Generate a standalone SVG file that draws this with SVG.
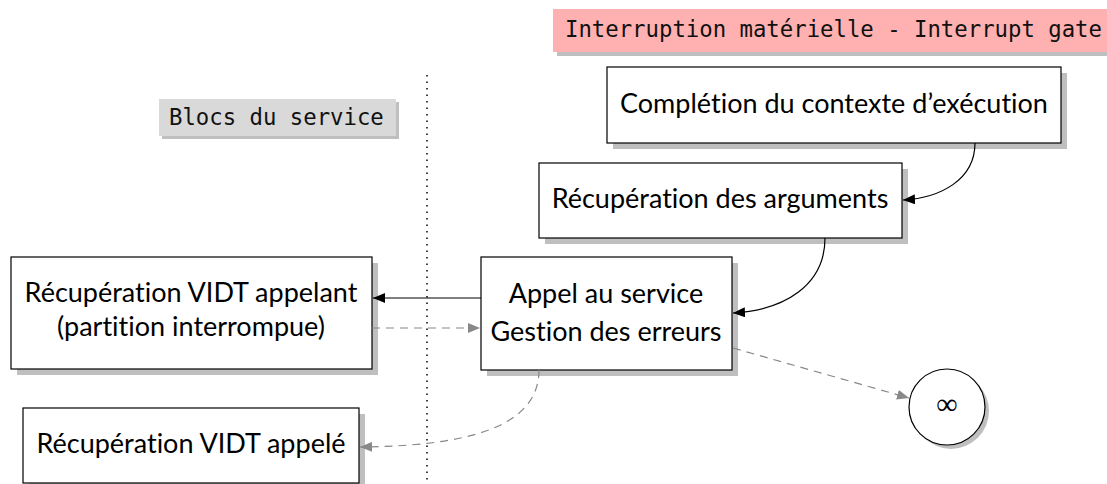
<svg xmlns="http://www.w3.org/2000/svg" width="1107" height="484" viewBox="0 0 1107 484">
<defs>
<style>
.box{fill:#fff;stroke:#000;stroke-width:1.2}
.sh{fill:#bfbfbf}
.t{font-family:Lato,"Open Sans",sans-serif;font-size:27px;fill:#000;text-anchor:middle;font-variant-ligatures:none;font-feature-settings:"liga" 0}
.m{font-family:"DejaVu Sans Mono","Liberation Mono",monospace;font-size:22.3px;fill:#111}
.solid{fill:none;stroke:#000;stroke-width:1.2}
.dash{fill:none;stroke:#888;stroke-width:1.2;stroke-dasharray:8 6}
</style>
<marker id="ab" viewBox="0 0 12 10" refX="12" refY="5" markerWidth="12" markerHeight="10" markerUnits="userSpaceOnUse" orient="auto"><path d="M0,0 L12,5 L0,10 Z" fill="#000"/></marker>
<marker id="ag" viewBox="0 0 12 10" refX="12" refY="5" markerWidth="12" markerHeight="10" markerUnits="userSpaceOnUse" orient="auto"><path d="M0,0 L12,5 L0,10 Z" fill="#888"/></marker>
</defs>
<rect width="1107" height="484" fill="#fff"/>
<line x1="427" y1="75" x2="427" y2="484" stroke="#000" stroke-width="1.5" stroke-dasharray="1.5 5"/>
<g id="label-interrupt">
<rect class="sh" x="557" y="13" width="560" height="43"/>
<rect x="553" y="9" width="560" height="43" fill="#ffb0b0"/>
<text class="m" x="565" y="37">Interruption matérielle - Interrupt gate</text>
</g>
<g id="label-blocs">
<rect class="sh" x="162" y="102" width="237" height="37"/>
<rect x="159" y="99" width="237" height="37" fill="#d9d9d9"/>
<text class="m" x="169" y="125">Blocs du service</text>
</g>
<g id="n-completion">
<rect class="sh" x="613" y="73" width="454" height="76"/>
<rect class="box" x="607" y="67" width="454" height="76"/>
<text class="t" x="834" y="113">Complétion du contexte d’exécution</text>
</g>
<g id="n-arguments">
<rect class="sh" x="545" y="169" width="363" height="75"/>
<rect class="box" x="539" y="163" width="363" height="75"/>
<text class="t" x="720" y="208">Récupération des arguments</text>
</g>
<g id="n-appel">
<rect class="sh" x="487" y="263" width="251" height="113"/>
<rect class="box" x="481" y="257" width="251" height="113"/>
<text class="t" x="606" y="303">Appel au service</text>
<text class="t" x="606" y="341">Gestion des erreurs</text>
</g>
<g id="n-vidt-appelant">
<rect class="sh" x="17" y="263" width="361" height="112"/>
<rect class="box" x="11" y="257" width="361" height="112"/>
<text class="t" x="191" y="302">Récupération VIDT appelant</text>
<text class="t" x="191" y="336">(partition interrompue)</text>
</g>
<g id="n-vidt-appele">
<rect class="sh" x="29" y="414" width="336" height="75"/>
<rect class="box" x="23" y="408" width="336" height="75"/>
<text class="t" x="191" y="453">Récupération VIDT appelé</text>
</g>
<g id="n-infinity">
<circle cx="951" cy="411" r="38" class="sh"/>
<circle cx="947" cy="407" r="38" class="box"/>
<text x="947" y="414" font-family="'Liberation Serif', serif" font-size="30" text-anchor="middle">∞</text>
</g>
<g id="connectors">
<path class="solid" d="M975,143 C975,180 940,198 903,200" marker-end="url(#ab)"/>
<path class="solid" d="M825,238 C825,285 785,310 733,313" marker-end="url(#ab)"/>
<path class="solid" d="M481,298 L373,298" marker-end="url(#ab)"/>
<path class="dash" d="M372,328 L480,328" marker-end="url(#ag)"/>
<path class="dash" d="M539,370 C539,430 460,446 360,447" marker-end="url(#ag)"/>
<path class="dash" d="M733,348 L909,398" marker-end="url(#ag)"/>
</g>
</svg>
